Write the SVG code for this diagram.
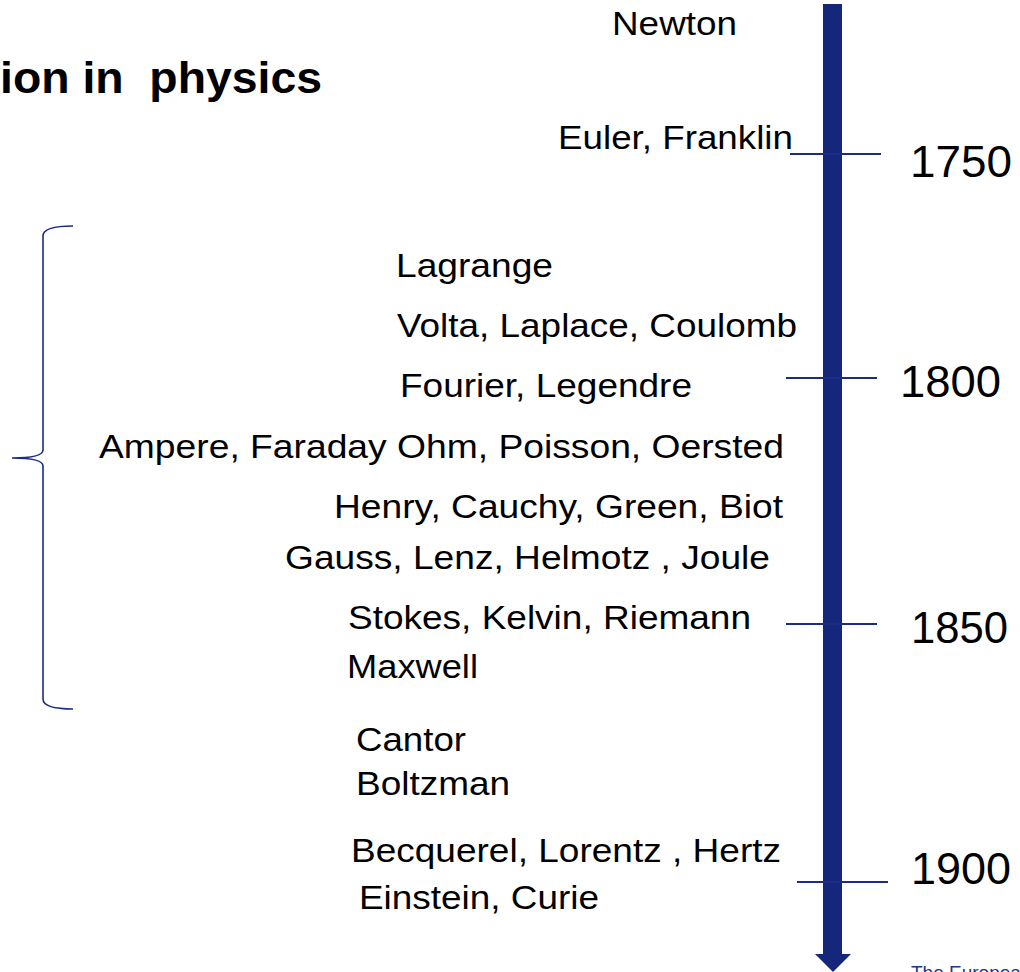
<svg xmlns="http://www.w3.org/2000/svg" width="1020" height="972" viewBox="0 0 1020 972">
<style>
text{font-family:"Liberation Sans",Arial,sans-serif;fill:#000}
.n{font-size:34px}
.y{font-size:44px}
.t{font-size:45px;font-weight:bold}
.tick{stroke:#1b2d80;stroke-width:2}
.axis{fill:#15277a}
.brace{fill:none;stroke:#1b2d80;stroke-width:1.6}
.foot{font-size:19px;fill:#1f3590}
</style>
<rect width="1020" height="972" fill="#fff"/>
<g id="title"><text class="t" x="0" y="93" textLength="322" lengthAdjust="spacingAndGlyphs" xml:space="preserve">ion in  physics</text></g>
<g id="connectors">
<rect class="axis" x="823" y="4" width="19" height="951"/>
<polygon class="axis" points="815,954 851,954 833,972"/>
<line class="tick" x1="790" y1="154" x2="881" y2="154"/>
<line class="tick" x1="786" y1="378" x2="877" y2="378"/>
<line class="tick" x1="786" y1="624" x2="877" y2="624"/>
<line class="tick" x1="797" y1="882" x2="888" y2="882"/>
<path class="brace" d="M73,226 Q43,226 43,236 L43,450 Q43,458 12,458 Q43,458 43,466 L43,699 Q43,709 73,709"/>
</g>
<g id="y1750"><text class="y" x="910" y="177" textLength="102" lengthAdjust="spacingAndGlyphs">1750</text></g>
<g id="y1800"><text class="y" x="900" y="397" textLength="101" lengthAdjust="spacingAndGlyphs">1800</text></g>
<g id="y1850"><text class="y" x="911" y="643" textLength="97" lengthAdjust="spacingAndGlyphs">1850</text></g>
<g id="y1900"><text class="y" x="911" y="884" textLength="100" lengthAdjust="spacingAndGlyphs">1900</text></g>
<g id="newton"><text class="n" x="612" y="35" textLength="125" lengthAdjust="spacingAndGlyphs">Newton</text></g>
<g id="euler"><text class="n" x="558" y="149" textLength="235" lengthAdjust="spacingAndGlyphs">Euler, Franklin</text></g>
<g id="lagrange"><text class="n" x="396" y="277" textLength="157" lengthAdjust="spacingAndGlyphs">Lagrange</text></g>
<g id="volta"><text class="n" x="397" y="337" textLength="400" lengthAdjust="spacingAndGlyphs">Volta, Laplace, Coulomb</text></g>
<g id="fourier"><text class="n" x="400" y="397" textLength="292" lengthAdjust="spacingAndGlyphs">Fourier, Legendre</text></g>
<g id="ampere"><text class="n" x="99" y="458" textLength="685" lengthAdjust="spacingAndGlyphs">Ampere, Faraday Ohm, Poisson, Oersted</text></g>
<g id="henry"><text class="n" x="334" y="518" textLength="449" lengthAdjust="spacingAndGlyphs">Henry, Cauchy, Green, Biot</text></g>
<g id="gauss"><text class="n" x="285" y="569" textLength="485" lengthAdjust="spacingAndGlyphs" xml:space="preserve">Gauss, Lenz, Helmotz , Joule</text></g>
<g id="stokes"><text class="n" x="348" y="629" textLength="403" lengthAdjust="spacingAndGlyphs">Stokes, Kelvin, Riemann</text></g>
<g id="maxwell"><text class="n" x="347" y="678" textLength="131" lengthAdjust="spacingAndGlyphs">Maxwell</text></g>
<g id="cantor"><text class="n" x="356" y="751" textLength="110" lengthAdjust="spacingAndGlyphs">Cantor</text></g>
<g id="boltzman"><text class="n" x="356" y="795" textLength="154" lengthAdjust="spacingAndGlyphs">Boltzman</text></g>
<g id="becquerel"><text class="n" x="351" y="862" textLength="430" lengthAdjust="spacingAndGlyphs">Becquerel, Lorentz , Hertz</text></g>
<g id="einstein"><text class="n" x="359" y="909" textLength="240" lengthAdjust="spacingAndGlyphs">Einstein, Curie</text></g>
<g id="footer"><text class="foot" x="911" y="979">The European</text></g>
</svg>
